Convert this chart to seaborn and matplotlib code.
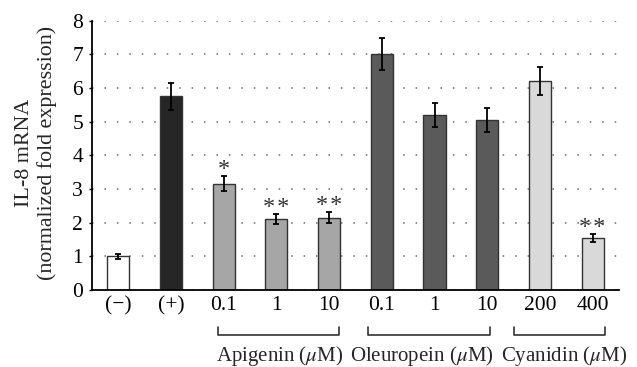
import matplotlib
matplotlib.use("Agg")
import matplotlib.pyplot as plt
import matplotlib.transforms as mtrans
import seaborn as sns
import pandas as pd

# ---- data ----
conditions = ["neg", "pos", "Api 0.1", "Api 1", "Api 10",
              "Ole 0.1", "Ole 1", "Ole 10", "Cya 200", "Cya 400"]
tick_labels = ["(\u2212)", "(+)", "0.1", "1", "10", "0.1", "1", "10", "200", "400"]
groups = ["neg", "pos", "Apigenin", "Apigenin", "Apigenin",
          "Oleuropein", "Oleuropein", "Oleuropein", "Cyanidin", "Cyanidin"]
means = [1.0, 5.75, 3.16, 2.10, 2.15, 7.02, 5.20, 5.05, 6.20, 1.55]
errors = [0.07, 0.40, 0.22, 0.15, 0.16, 0.47, 0.36, 0.35, 0.42, 0.12]
significance = ["", "", "*", "*\u200a*", "*\u200a*", "", "", "", "", "*\u200a*"]
group_names = ["Apigenin ($\\mu$M)", "Oleuropein ($\\mu$M)", "Cyanidin ($\\mu$M)"]
y_ticks = [0, 1, 2, 3, 4, 5, 6, 7, 8]

palette = {"neg": "#ffffff", "pos": "#262626", "Apigenin": "#a6a6a6",
           "Oleuropein": "#5a5a5a", "Cyanidin": "#d9d9d9"}

# layout (bracket spans and label centres in category units)
bracket_spans = [(1.89, 4.19), (4.74, 7.05), (7.51, 9.23)]
label_centres = [3.06, 5.76, 8.46]

df = pd.DataFrame({"condition": conditions, "mean": means, "group": groups})

sns.set_style("white")
plt.rcParams["font.family"] = ["Liberation Serif", "DejaVu Serif"]
plt.rcParams["mathtext.fontset"] = "stix"

fig = plt.figure(figsize=(6.37, 3.67), dpi=100)
ax = fig.add_axes([0.1444, 0.2098, 0.8273, 0.7338])

sns.barplot(data=df, x="condition", y="mean", hue="group", order=conditions,
            palette=palette, dodge=False, width=0.42, errorbar=None,
            edgecolor="#333333", linewidth=1.0, legend=False, ax=ax, zorder=2)

xs = list(range(len(conditions)))
ax.errorbar(xs, means, yerr=errors, fmt="none", ecolor="black",
            elinewidth=1.3, capsize=2.5, capthick=1.3, zorder=3)

for x, m, e, s in zip(xs, means, errors, significance):
    if s:
        ax.annotate(s, (x, m + e), xytext=(0, -3), textcoords="offset points",
                    ha="center", va="bottom", fontsize=17.5, color="#333333")

ax.set_xlim(-0.5, 9.5)
ax.set_ylim(0, 8)
ax.set_yticks(y_ticks)
ax.set_xticks(xs)
ax.set_xticklabels(tick_labels)
ax.set_xlabel("")
ax.set_ylabel("IL-8 mRNA\n(normalized fold expression)", fontsize=15.8,
              linespacing=1.25)
ax.yaxis.set_label_coords(-0.066, 0.51)

ax.yaxis.grid(True, linestyle=(0, (0.8, 5.6)), linewidth=1.4, color="#8c8c8c")
ax.xaxis.grid(False)
ax.set_axisbelow(True)

for side in ["top", "right"]:
    ax.spines[side].set_visible(False)
for side in ["left", "bottom"]:
    ax.spines[side].set_color("black")
    ax.spines[side].set_linewidth(1.3)

ax.tick_params(axis="x", length=0, pad=4.5, labelsize=15.5, colors="black")
ax.tick_params(axis="y", length=2.5, width=1, direction="out", pad=4,
               labelsize=15.5, colors="black", left=True)

trans = mtrans.blended_transform_factory(ax.transData, ax.transAxes)
for (x0, x1), c, name in zip(bracket_spans, label_centres, group_names):
    ax.plot([x0, x0, x1, x1], [-0.137, -0.167, -0.167, -0.137], transform=trans,
            clip_on=False, color="#333333", lw=1.2)
    ax.text(c, -0.245, name, transform=trans, ha="center", va="center",
            fontsize=15)

fig.savefig("out.png", dpi=100)
